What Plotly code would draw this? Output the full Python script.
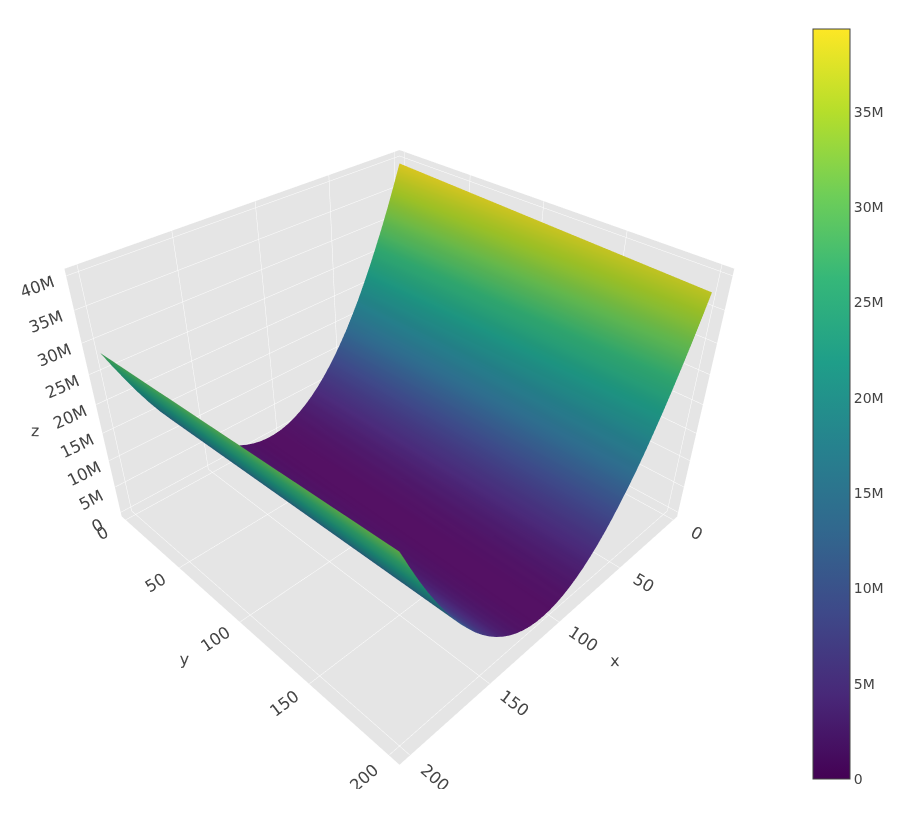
import plotly.graph_objects as go

x_values = [0, 5, 10, 15, 20, 25, 30, 35, 40, 45, 50, 55, 60, 65, 70, 75, 80, 85, 90, 95,
            100, 105, 110, 115, 120, 125, 130, 135, 140, 145, 150, 155, 160, 165, 170, 175, 180, 185, 190, 195, 200]
y_values = [0, 200]
z_near_m = [39.35, 35.8, 32.4, 29.2, 26.2, 23.3, 20.6, 18.0, 15.65, 13.4, 11.4, 9.53, 7.83, 6.29, 4.92, 3.72, 2.69, 1.82, 1.12, 0.59,
            0.23, 0.04, 0.01, 0.15, 0.46, 0.94, 1.58, 2.39, 3.37, 4.52, 5.83, 7.32, 8.97, 10.8, 12.8, 14.9, 17.2, 19.7, 22.4, 25.2, 28.2]
z_far_m = [37.4, 33.9, 30.6, 27.5, 24.5, 21.7, 19.1, 16.6, 14.3, 12.2, 10.3, 8.48, 6.87, 5.43, 4.16, 3.05, 2.12, 1.36, 0.76, 0.34,
           0.08, 0.02, 0.08, 0.34, 0.76, 1.36, 2.12, 3.05, 4.16, 5.43, 6.87, 8.48, 10.3, 12.2, 14.3, 16.6, 19.1, 21.7, 24.5, 27.5, 30.6]

z_rows = [[v * 1e6 for v in z_near_m], [v * 1e6 for v in z_far_m]]

FONT = "DejaVu Sans"
axis_style = dict(backgroundcolor="#E5E5E5", showbackground=True, gridcolor="white",
                  zerolinecolor="white", linecolor="#E5E5E5",
                  ticks="outside", tickcolor="rgba(0,0,0,0)",
                  tickfont=dict(size=14, color="#444", family=FONT),
                  title_font=dict(size=16, color="#444", family=FONT))

fig = go.Figure(go.Surface(
    x=x_values, y=y_values, z=z_rows, colorscale="Viridis", cmin=0, cmax=39.35e6,
    colorbar=dict(thickness=37, outlinecolor="#444", outlinewidth=1,
                  yanchor="bottom", y=20 / 790, len=770 / 790, ypad=10,
                  tickfont=dict(size=14, color="#444", family=FONT)),
))
fig.update_layout(
    template="none",
    font=dict(family=FONT),
    width=900, height=813,
    margin=dict(l=4, r=121, t=11, b=12),
    paper_bgcolor="white",
    scene=dict(
        domain=dict(x=[0, 1], y=[20 / 790, 1]),
        xaxis=dict(range=[-4, 206], title="x", ticklen=6, **axis_style),
        yaxis=dict(range=[-4, 206], title="y", ticklen=6, **axis_style),
        zaxis=dict(range=[-0.8e6, 41e6], title="z", ticklen=8, **axis_style),
        aspectmode="manual",
        aspectratio=dict(x=1, y=1, z=0.7),
        camera=dict(eye=dict(x=1.25, y=1.25, z=1.25)),
    ),
)
fig.write_html("out.html")
